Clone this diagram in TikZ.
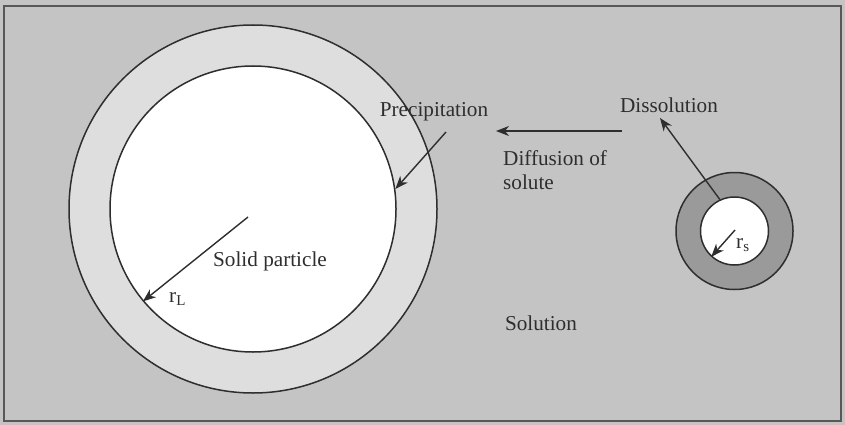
\documentclass[tikz,border=0pt]{standalone}
\usepackage{fontspec}
\setmainfont{Liberation Serif}
\usetikzlibrary{arrows.meta}
\definecolor{bg}{HTML}{C4C4C4}
\definecolor{ringL}{HTML}{DEDEDE}
\definecolor{ringS}{HTML}{9A9A9A}
\definecolor{ink}{HTML}{2E2E2E}
\newcommand{\subsc}[1]{\raisebox{-0.3ex}{\fontsize{15}{17}\selectfont #1}}
\tikzset{
  ring/.style={circle, draw=ink, line width=1.5pt, inner sep=0pt},
  lbl/.style={text=ink, font=\fontsize{21.2}{24}\selectfont, inner sep=0pt},
  arr/.style={draw=ink, line width=1.4pt, -{Stealth[length=13pt,width=10pt,inset=4pt]}}
}
\begin{document}
\begin{tikzpicture}[x=1pt,y=-1pt]
\useasboundingbox (0,0) rectangle (845,425);
\fill[bg] (0,0) rectangle (845,425);
\draw[ink!80, line width=1.5pt] (4,6) rectangle (841,421);
% large particle
\node[ring, fill=ringL, minimum size=368pt] (bigout) at (253,209) {};
\node[ring, fill=white, minimum size=286pt] (bigin) at (253,209) {};
% small particle
\node[ring, fill=ringS, minimum size=117pt] (smallout) at (734.5,231) {};
\node[ring, fill=white, minimum size=68pt] (smallin) at (734.5,231) {};
% labels
\node[lbl] (prec) at (434,112) {Precipitation};
\node[lbl] (diss) at (669,105) {Dissolution};
\node[lbl, align=left, anchor=west] (diff) at (503,170) {Diffusion of\\solute};
\node[lbl] (solid) at (270,261) {Solid particle};
\node[lbl] (soln) at (541,323) {Solution};
\node[lbl, anchor=west] (rL) at (169,299) {r\subsc{L}};
\node[lbl, anchor=west] (rs) at (736,245) {r\subsc{s}};
% connectors
\coordinate (precStart) at (446,132);
\draw[arr] (precStart) -- (bigin.8.7);
\coordinate (diffStart) at (622,131);
\coordinate (diffEnd) at (496,131);
\draw[arr] (diffStart) -- (diffEnd);
\coordinate (dissTip) at (660,118);
\draw[arr] (smallin.115) -- (dissTip);
\coordinate (Lc) at (248,217);
\draw[arr] (Lc) -- (bigin.220.3);
\coordinate (Sc) at (735,230);
\draw[arr] (Sc) -- (smallin.228);
\end{tikzpicture}
\end{document}
